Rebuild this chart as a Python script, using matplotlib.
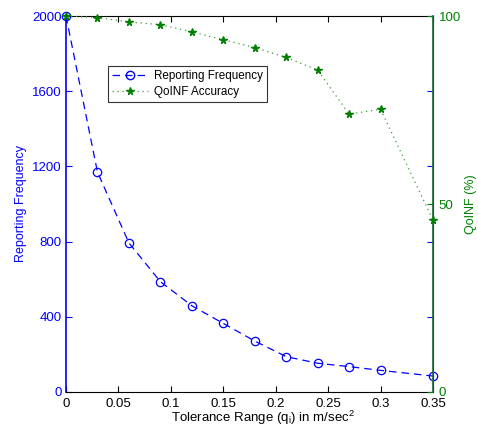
import matplotlib
matplotlib.use("Agg")
import matplotlib.pyplot as plt
from matplotlib.lines import Line2D

plt.rcParams['font.family'] = ['Liberation Sans', 'DejaVu Sans']
plt.rcParams['mathtext.fontset'] = 'custom'
plt.rcParams['mathtext.rm'] = 'Liberation Sans'
plt.rcParams['mathtext.it'] = 'Liberation Sans'

tolerance = [0, 0.03, 0.06, 0.09, 0.12, 0.15, 0.18, 0.21, 0.24, 0.27, 0.30, 0.35]
report_freq = [2000, 1170, 793, 587, 459, 365, 271, 188, 153, 135, 115, 85]
qoinf_acc = [100, 99.6, 98.4, 97.7, 95.8, 93.7, 91.6, 89.0, 85.6, 73.9, 75.2, 45.7]
x_ticks = [0, 0.05, 0.1, 0.15, 0.2, 0.25, 0.3, 0.35]
x_ticklabels = ['0', '0.05', '0.1', '0.15', '0.2', '0.25', '0.3', '0.35']
left_ticks = [0, 400, 800, 1200, 1600, 2000]
right_ticks = [0, 50, 100]

blue = '#0000FF'
green = '#008000'
fs_tick = 9.5
fs_lab = 9

fig = plt.figure(figsize=(4.78, 4.29), dpi=100)
ax = fig.add_axes([66/478, 37/429, 367/478, 376/429])
ax2 = ax.twinx()

ax.plot(tolerance, report_freq, color=blue, linestyle=(0, (6, 4)), linewidth=0.9,
        marker='o', markersize=6, markerfacecolor='none', markeredgecolor=blue,
        markeredgewidth=0.9, clip_on=False, zorder=3)
ax2.plot(tolerance, qoinf_acc, color='#3a9a3a', linestyle=(0, (1, 3)), linewidth=0.9,
         marker='*', markersize=5.5, markerfacecolor=green, markeredgecolor=green,
         clip_on=False, zorder=3)

ax.set_xlim(0, 0.35)
ax.set_ylim(0, 2000)
ax2.set_ylim(0, 100)
ax.set_xticks(x_ticks)
ax.set_xticklabels(x_ticklabels, fontsize=fs_tick)
ax.set_yticks(left_ticks)
ax.set_yticklabels([str(t) for t in left_ticks], fontsize=fs_tick, color=blue)
ax2.set_yticks(right_ticks)
ax2.set_yticklabels([str(t) for t in right_ticks], fontsize=fs_tick, color=green)

ax.tick_params(axis='x', direction='in', top=True, length=4, width=0.8, pad=4)
ax.tick_params(axis='y', direction='in', right=True, length=4, width=0.8, colors=blue,
               labelcolor=blue, pad=3)
ax2.tick_params(axis='y', direction='in', length=4, width=0.8, colors=green,
                labelcolor=green, pad=4)

for sp in ['top', 'bottom']:
    ax.spines[sp].set_color('black')
    ax.spines[sp].set_linewidth(0.8)
ax.spines['left'].set_color(blue)
ax.spines['left'].set_linewidth(1.2)
ax2.spines['right'].set_color('#1a6b3a')
ax2.spines['right'].set_linewidth(1.2)
ax2.spines['left'].set_visible(False)
ax2.spines['top'].set_visible(False)
ax2.spines['bottom'].set_visible(False)

ax.set_xlabel('Tolerance Range (q$_\\mathregular{i}$) in m/sec$^\\mathregular{2}$',
              fontsize=9.5)
ax.xaxis.set_label_coords((263 - 66) / 367, (392 - 409) / 376)
ax.set_ylabel('Reporting Frequency', fontsize=fs_lab, color=blue, labelpad=4)
ax2.set_ylabel('QoINF (%)', fontsize=fs_lab, color=green, labelpad=3)

handles = [
    Line2D([], [], color=blue, linestyle=(0, (6, 4)), linewidth=0.9, marker='o',
           markersize=6, markerfacecolor='none', markeredgecolor=blue),
    Line2D([], [], color='#3a9a3a', linestyle=(0, (1, 3)), linewidth=0.9, marker='*',
           markersize=5.5, markerfacecolor=green, markeredgecolor=green),
]
leg = ax.legend(handles, ['Reporting Frequency', 'QoINF Accuracy'],
                loc='upper left', bbox_to_anchor=(108/478, 1 - 66/429), bbox_transform=fig.transFigure,
                fontsize=8.4, frameon=True, fancybox=False, borderpad=0.35,
                labelspacing=0.35, handlelength=3.1, handletextpad=0.45, borderaxespad=0)
leg.get_frame().set_edgecolor('black')
leg.get_frame().set_linewidth(0.8)
leg.set_zorder(10)

fig.savefig('out.png', dpi=100)
